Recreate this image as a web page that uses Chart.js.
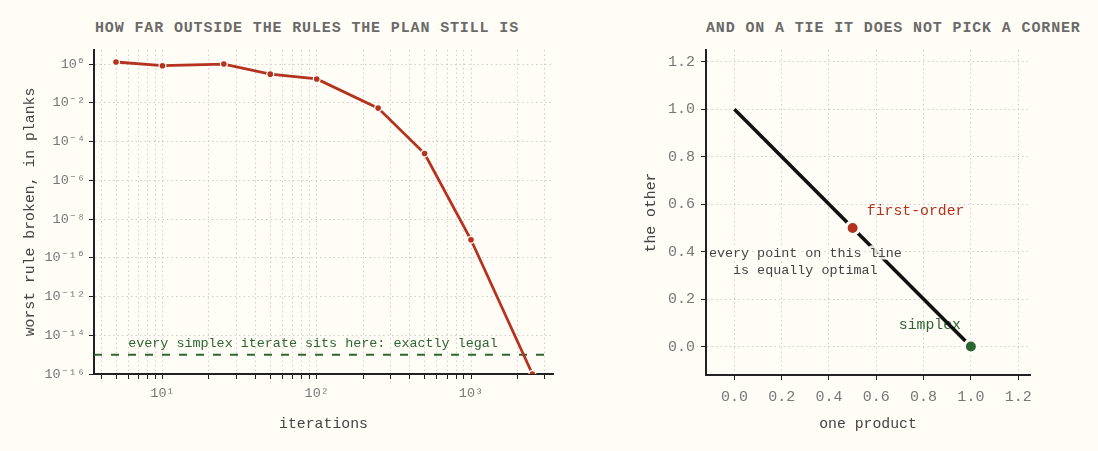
<!DOCTYPE html>
<html>
<head>
<meta charset="utf-8">
<script src="https://cdn.jsdelivr.net/npm/chart.js@4.4.1/dist/chart.umd.min.js"></script>
<style>
  html, body { margin: 0; padding: 0; background: #fffdf5; }
  body { width: 1098px; height: 451px; position: relative; overflow: hidden; }
  canvas { position: absolute; top: 0; }
  #graph01 { left: 0; }
  #graph02 { left: 600px; }
  .titre { position: absolute; top: 20px; font: bold 15px 'Liberation Mono', monospace; color: #6a6a6a;
           letter-spacing: 0.86px; white-space: nowrap; line-height: normal; }
</style>
</head>
<body>
<div class="titre" style="left:95px">HOW FAR OUTSIDE THE RULES THE PLAN STILL IS</div>
<div class="titre" style="left:706px">AND ON A TIE IT DOES NOT PICK A CORNER</div>
<canvas id="graph01" width="600" height="451"></canvas>
<canvas id="graph02" width="498" height="451"></canvas>
<script>
// gauche : écart aux contraintes en fonction des itérations
const iterations = [5, 10, 25, 50, 100, 250, 500, 1000, 2500];
const pireViolation = [1.27, 0.82, 1.0, 0.30, 0.17, 0.0053, 2.4e-5, 8.5e-10, 1e-16];
const niveauSimplex = 1e-15;
const limitesIter = [3.6, 3400];
const limitesViol = [1e-16, 5.3];
const ticksIter = [4, 5, 6, 7, 8, 9, 10, 20, 30, 40, 50, 60, 70, 80, 90,
  100, 200, 300, 400, 500, 600, 700, 800, 900, 1000, 2000, 3000];
const ticksIterLabels = [10, 100, 1000];
const ticksViol = [1, 1e-2, 1e-4, 1e-6, 1e-8, 1e-10, 1e-12, 1e-14, 1e-16];

// droite : la face optimale
const segmentX = [0, 1];
const segmentY = [1, 0];
const pointPremierOrdre = [0.5, 0.5];
const pointSimplex = [1, 0];
const ticksProduit = [0, 0.2, 0.4, 0.6, 0.8, 1.0, 1.2];
const limitesProduit = [-0.12, 1.25];

const POLICE = "'Liberation Mono', 'DejaVu Sans Mono', monospace";
const COULEURS = {
  rouge: '#b4321f',
  vert: '#2c6633',
  fond: '#fffdf5',
  noir: '#111111',
  axe: '#222222',
  grille: '#c9c9c4',
  ticks: '#777777',
  texte: '#444444',
};

Chart.defaults.font.family = POLICE;
Chart.defaults.animation = false;

const SUP = { '0': '⁰', '1': '¹', '2': '²', '3': '³', '4': '⁴', '5': '⁵', '6': '⁶', '7': '⁷', '8': '⁸', '9': '⁹', '-': '⁻' };
function puissance(v) {
  let e = String(Math.round(Math.log10(v)));
  return '10' + e.split('').map(c => SUP[c]).join('');
}

function fixerTicks(liste) {
  return function (scale) { scale.ticks = liste.map(v => ({ value: v })); };
}

function axe(commun) {
  return Object.assign({
    border: { display: true, color: COULEURS.axe, width: 2, dash: [1.5, 3] },
    grid: { color: COULEURS.grille, lineWidth: 0.9, drawTicks: true, tickLength: 5, tickColor: COULEURS.axe, tickWidth: 1 },
  }, commun);
}

function dessineMoiUnMouton(id, type, data, options, plugins) {
  let ctx = document.getElementById(id).getContext('2d');
  return new Chart(ctx, { type: type, data: data, options: options, plugins: plugins || [] });
}

/**
 * texte d'annotation au-dessus de la ligne pointillée
 */
const annotationGauche = {
  id: 'annotationGauche',
  afterDatasetsDraw(chart) {
    const { ctx, scales: { x, y } } = chart;
    ctx.save();
    ctx.font = '13.4px ' + POLICE;
    ctx.fillStyle = COULEURS.vert;
    ctx.textAlign = 'left';
    ctx.textBaseline = 'alphabetic';
    ctx.fillText('every simplex iterate sits here: exactly legal', x.getPixelForValue(6), y.getPixelForValue(niveauSimplex) - 8);
    ctx.restore();
  }
};

function graph01() {
  let data = {
    datasets: [
      {
        label: 'first-order',
        data: iterations.map((v, i) => ({ x: v, y: pireViolation[i] })),
        borderColor: COULEURS.rouge,
        backgroundColor: COULEURS.rouge,
        borderWidth: 2.8,
        pointRadius: 3.4,
        pointBorderColor: COULEURS.fond,
        pointBorderWidth: 1.2,
        tension: 0,
      },
      {
        label: 'simplex',
        data: limitesIter.map(v => ({ x: v, y: niveauSimplex })),
        borderColor: COULEURS.vert,
        borderWidth: 2,
        borderDash: [8, 9],
        pointRadius: 0,
        tension: 0,
      },
    ]
  };
  let options = {
    responsive: false,
    layout: { padding: { top: 50, right: 47, bottom: 0, left: 0 } },
    scales: {
      x: axe({
        type: 'logarithmic', min: limitesIter[0], max: limitesIter[1],
        afterBuildTicks: fixerTicks(ticksIter),
        afterFit: s => { s.height = 77; },
        ticks: {
          autoSkip: false, maxRotation: 0, padding: 6, color: COULEURS.ticks, font: { size: 13.5 },
          callback: v => ticksIterLabels.includes(v) ? puissance(v) : ''
        },
        title: { display: true, text: 'iterations', color: COULEURS.texte, font: { size: 14.8 }, padding: { top: 0, bottom: 18 } },
      }),
      y: axe({
        type: 'logarithmic', min: limitesViol[0], max: limitesViol[1],
        afterBuildTicks: fixerTicks(ticksViol),
        afterFit: s => { s.width = 94; },
        ticks: { autoSkip: false, padding: 4, color: COULEURS.ticks, font: { size: 13.5 }, callback: v => puissance(v) },
        title: { display: true, text: 'worst rule broken, in planks', color: COULEURS.texte, font: { size: 14.8 }, padding: { top: 21, bottom: 0 } },
      }),
    },
    plugins: { legend: { display: false }, tooltip: { enabled: false }, title: { display: false } }
  };
  dessineMoiUnMouton('graph01', 'line', data, options, [annotationGauche]);
}

/**
 * étiquettes du graphique de droite
 */
const annotationDroite = {
  id: 'annotationDroite',
  beforeDatasetsDraw(chart) {
    const { ctx, scales: { x, y } } = chart;
    ctx.save();
    ctx.font = '14.8px ' + POLICE;
    ctx.textBaseline = 'middle';
    ctx.fillStyle = COULEURS.rouge;
    ctx.textAlign = 'left';
    ctx.fillText('first-order', x.getPixelForValue(0.56), y.getPixelForValue(0.573));
    ctx.fillStyle = COULEURS.vert;
    ctx.textAlign = 'right';
    ctx.fillText('simplex', x.getPixelForValue(0.958), y.getPixelForValue(0.092));
    ctx.restore();
  },
  afterDatasetsDraw(chart) {
    const { ctx, scales: { x, y } } = chart;
    const lignes = ['every point on this line', 'is equally optimal'];
    const cx = x.getPixelForValue(0.30);
    const cy = y.getPixelForValue(0.358);
    ctx.save();
    ctx.font = '13.4px ' + POLICE;
    ctx.textAlign = 'center';
    ctx.textBaseline = 'middle';
    ctx.lineJoin = 'round';
    ctx.lineWidth = 5;
    ctx.strokeStyle = 'rgba(255, 253, 245, 0.9)';
    ctx.fillStyle = COULEURS.texte;
    [[lignes[0], cy - 8.5], [lignes[1], cy + 9]].forEach(([t, ty]) => {
      ctx.strokeText(t, cx, ty);
      ctx.fillText(t, cx, ty);
    });
    ctx.restore();
  }
};

function graph02() {
  let data = {
    datasets: [
      {
        label: 'premier ordre',
        data: [{ x: pointPremierOrdre[0], y: pointPremierOrdre[1] }],
        backgroundColor: COULEURS.rouge,
        pointRadius: 6.5,
        pointBorderColor: COULEURS.fond,
        pointBorderWidth: 3,
        showLine: false,
      },
      {
        label: 'simplex',
        data: [{ x: pointSimplex[0], y: pointSimplex[1] }],
        backgroundColor: COULEURS.vert,
        pointRadius: 6.5,
        pointBorderColor: COULEURS.fond,
        pointBorderWidth: 3,
        showLine: false,
      },
      {
        label: 'face optimale',
        data: segmentX.map((v, i) => ({ x: v, y: segmentY[i] })),
        borderColor: COULEURS.noir,
        borderWidth: 3.6,
        pointRadius: 0,
        showLine: true,
        tension: 0,
      },
    ]
  };
  let options = {
    responsive: false,
    layout: { padding: { top: 50, right: 68, bottom: 0, left: 0 } },
    scales: {
      x: axe({
        type: 'linear', min: limitesProduit[0], max: limitesProduit[1],
        afterBuildTicks: fixerTicks(ticksProduit),
        afterFit: s => { s.height = 76; },
        ticks: { autoSkip: false, maxRotation: 0, padding: 8, color: COULEURS.ticks, font: { size: 15 }, callback: v => v.toFixed(1) },
        title: { display: true, text: 'one product', color: COULEURS.texte, font: { size: 14.8 }, padding: { top: 0, bottom: 18 } },
      }),
      y: axe({
        type: 'linear', min: limitesProduit[0], max: limitesProduit[1],
        afterBuildTicks: fixerTicks(ticksProduit),
        afterFit: s => { s.width = 106; },
        ticks: { autoSkip: false, padding: 6, color: COULEURS.ticks, font: { size: 15 }, callback: v => v.toFixed(1) },
        title: { display: true, text: 'the other', color: COULEURS.texte, font: { size: 14.8 }, padding: { top: 42, bottom: 0 } },
      }),
    },
    plugins: { legend: { display: false }, tooltip: { enabled: false }, title: { display: false } }
  };
  dessineMoiUnMouton('graph02', 'scatter', data, options, [annotationDroite]);
}

graph01();
graph02();
</script>
</body>
</html>
